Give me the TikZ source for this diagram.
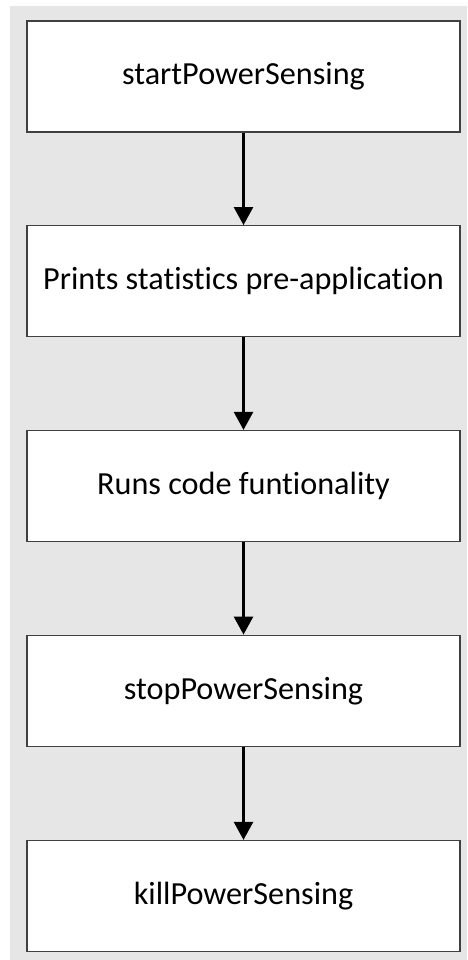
\documentclass[tikz,border=0pt]{standalone}
\usepackage{fontspec}
\setmainfont{Carlito}[Ligatures=NoCommon, RawFeature={-liga;-calt;-clig}]
\usetikzlibrary{arrows.meta}
\definecolor{panel}{HTML}{E6E6E6}
\definecolor{edge}{HTML}{404040}
\tikzset{
  stepbox/.style={draw=edge, line width=1.2pt, fill=white,
    minimum width=433pt, minimum height=111pt, inner sep=0pt,
    font=\fontsize{32.2}{36}\selectfont},
  flow/.style={line width=2.6pt, -{Triangle[width=19pt,length=18pt]}}
}
\begin{document}
\begin{tikzpicture}[x=1pt,y=-1pt]
  \useasboundingbox (0,0) rectangle (467,960);
  \fill[panel] (10,6) rectangle (467,960);
  \node[stepbox] (s1) at (243.5,76.5)  {startPowerSensing};
  \node[stepbox] (s2) at (243.5,281.2) {Prints statistics pre-application};
  \node[stepbox] (s3) at (243.5,486.0) {Runs code funtionality};
  \node[stepbox] (s4) at (243.5,690.7) {stopPowerSensing};
  \node[stepbox] (s5) at (243.5,896.0) {killPowerSensing};
  \draw[flow] (s1.south) -- (s2.north);
  \draw[flow] (s2.south) -- (s3.north);
  \draw[flow] (s3.south) -- (s4.north);
  \draw[flow] (s4.south) -- (s5.north);
\end{tikzpicture}
\end{document}
